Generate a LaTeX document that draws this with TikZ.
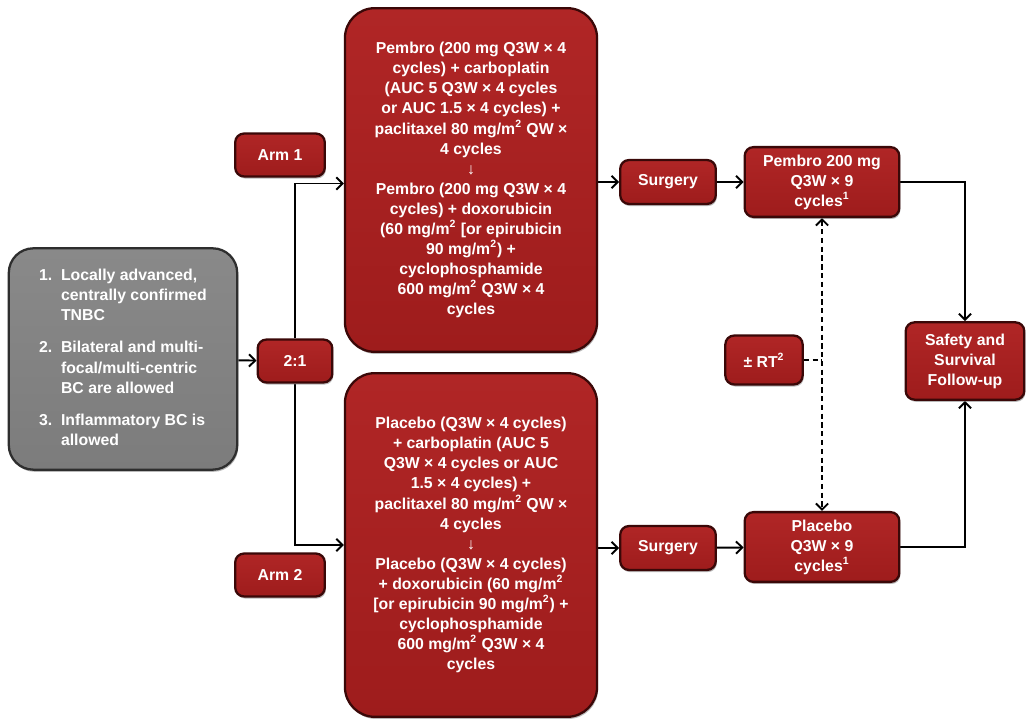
\documentclass[tikz,border=0pt]{standalone}
\usepackage{fontspec}
\setmainfont{Liberation Sans}
\usepackage{tikz}
\usetikzlibrary{arrows.meta,shadows,backgrounds}
\usepackage[dvipsnames,svgnames,x11names]{xcolor}

\definecolor{trialred}{HTML}{9E1C1C}
\definecolor{trialredlight}{HTML}{B02626}
\definecolor{trialedge}{HTML}{3A0808}
\definecolor{trialgray}{HTML}{7C7C7C}
\definecolor{trialgrayedge}{HTML}{2E2E2E}

\tikzset{
    redbox/.style={
        rounded corners=5pt,
        top color=trialredlight,
        bottom color=trialred,
        draw=trialedge,
        line width=1.3pt,
        text=white,
        font=\bfseries\fontsize{9}{11.4}\selectfont,
        align=center,
        inner sep=0pt,
        drop shadow={shadow xshift=0.6pt, shadow yshift=-1.2pt, fill=black!55}
    },
    bigbox/.style={
        redbox,
        rounded corners=17pt,
        minimum width=143.5pt,
        minimum height=195.6pt
    },
    flow/.style={
        ->,
        line width=1.1pt,
        black
    }
}

\begin{document}
\begin{tikzpicture}[>={Straight Barb[length=3.5pt,width=7pt]}, x=0.02cm, y=-0.02cm]

\useasboundingbox (0,0) rectangle (1036,719);

% ---------------- CRITERIS ----------------

\node[
    redbox,
    top color=trialgray!90,
    bottom color=trialgray,
    draw=trialgrayedge,
    rounded corners=14pt,
    minimum width=130pt,
    minimum height=126pt
] (criteria) at (123,359) {%
    \begin{tabular}{@{}l@{\hspace{5pt}}l@{}}
    1. & Locally advanced,\\
       & centrally confirmed\\
       & TNBC\\[7pt]
    2. & Bilateral and multi-\\
       & focal/multi-centric\\
       & BC are allowed\\[7pt]
    3. & Inflammatory BC is\\
       & allowed
    \end{tabular}};

% Aleatoritzacio
\node[
    redbox,
    minimum width=42.5pt,
    minimum height=24.4pt
] (ratio) at (295,361) {2:1};

\node[
    redbox,
    minimum width=51pt,
    minimum height=24.4pt
] (armA) at (280,155) {Arm 1};

\node[
    redbox,
    minimum width=51pt,
    minimum height=24.4pt
] (armB) at (280,575) {Arm 2};

% ---------------- TRACTAMENT ----------------

\node[bigbox] (chemoA) at (471,180) {%
    Pembro (200 mg Q3W × 4\\
    cycles) + carboplatin\\
    (AUC 5 Q3W × 4 cycles\\
    or AUC 1.5 × 4 cycles) +\\
    paclitaxel 80 mg/m\textsuperscript{2} QW ×\\
    4 cycles\\
    ↓\\
    Pembro (200 mg Q3W × 4\\
    cycles) + doxorubicin\\
    (60 mg/m\textsuperscript{2} {[}or epirubicin\\
    90 mg/m\textsuperscript{2}) +\\
    cyclophosphamide\\
    600 mg/m\textsuperscript{2} Q3W × 4\\
    cycles};

\node[bigbox] (chemoB) at (471,545) {%
    Placebo (Q3W × 4 cycles)\\
    + carboplatin (AUC 5\\
    Q3W × 4 cycles or AUC\\
    1.5 × 4 cycles) +\\
    paclitaxel 80 mg/m\textsuperscript{2} QW ×\\
    4 cycles\\
    ↓\\
    Placebo (Q3W × 4 cycles)\\
    + doxorubicin (60 mg/m\textsuperscript{2}\\
    {[}or epirubicin 90 mg/m\textsuperscript{2}) +\\
    cyclophosphamide\\
    600 mg/m\textsuperscript{2} Q3W × 4\\
    cycles};

% Cirurgia
\node[
    redbox,
    minimum width=54.4pt,
    minimum height=25pt
] (surgA) at (668,182) {Surgery};

\node[
    redbox,
    minimum width=54.4pt,
    minimum height=25pt
] (surgB) at (668,548) {Surgery};

% Adjuvant
\node[
    redbox,
    minimum width=88pt,
    minimum height=39.7pt
] (adjA) at (822,182) {Pembro 200 mg\\Q3W × 9\\cycles\textsuperscript{1}};

\node[
    redbox,
    minimum width=88pt,
    minimum height=39.7pt
] (adjB) at (822,547) {Placebo\\Q3W × 9\\cycles\textsuperscript{1}};

\node[
    redbox,
    minimum width=44pt,
    minimum height=27.8pt
] (rt) at (764,360) {± RT\textsuperscript{2}};

\node[
    redbox,
    minimum width=67.5pt,
    minimum height=44pt
] (safety) at (965,361) {Safety and\\Survival\\Follow-up};

% ---------------- CONNEXIONS ----------------

\begin{pgfonlayer}{background}
\draw[flow] (criteria) -- (ratio);
\draw[flow] (ratio.north) |- ([yshift=-2pt]chemoA.west);
\draw[flow] (ratio.south) |- (chemoB.west);
\draw[flow] (chemoA.east |- surgA) -- (surgA);
\draw[flow] (chemoB.east |- surgB) -- (surgB);
\draw[flow] (surgA) -- (adjA);
\draw[flow] (surgB) -- (adjB);
\draw[flow] (adjA.east) -| (safety.north);
\draw[flow] (adjB.east) -| (safety.south);

% Radioterapia
\draw[
    <->,
    line width=1.1pt,
    densely dashed
] (adjA.south) -- (adjB.north);

\draw[
    line width=1.1pt,
    densely dashed
] (rt.east) -- (rt.east -| adjA.south);
\end{pgfonlayer}

\end{tikzpicture}
\end{document}
